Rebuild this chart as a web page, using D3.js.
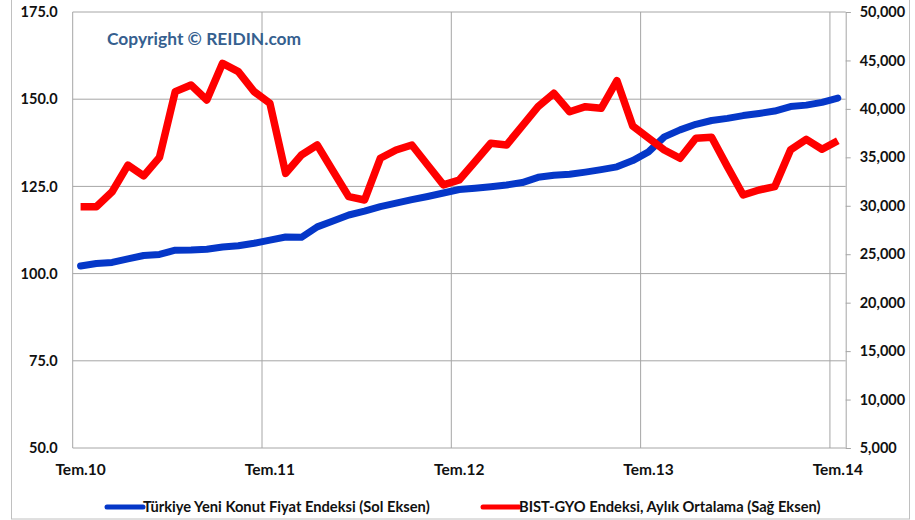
<!DOCTYPE html>
<html>
<head>
<meta charset="utf-8">
<script src="https://cdn.jsdelivr.net/npm/d3@7"></script>
<style>
  body { margin: 0; background: #fff; }
  svg text { font-family: Lato, "Open Sans", sans-serif; font-weight: bold; }
</style>
</head>
<body>
<svg id="chart" width="915" height="520"></svg>
<script>
// monthly categories, Jul 2010 .. Jul 2014
const months = [
  "Tem.10","Ağu.10","Eyl.10","Eki.10","Kas.10","Ara.10",
  "Oca.11","Şub.11","Mar.11","Nis.11","May.11","Haz.11",
  "Tem.11","Ağu.11","Eyl.11","Eki.11","Kas.11","Ara.11",
  "Oca.12","Şub.12","Mar.12","Nis.12","May.12","Haz.12",
  "Tem.12","Ağu.12","Eyl.12","Eki.12","Kas.12","Ara.12",
  "Oca.13","Şub.13","Mar.13","Nis.13","May.13","Haz.13",
  "Tem.13","Ağu.13","Eyl.13","Eki.13","Kas.13","Ara.13",
  "Oca.14","Şub.14","Mar.14","Nis.14","May.14","Haz.14",
  "Tem.14"
];
const xTickLabels = ["Tem.10", "Tem.11", "Tem.12", "Tem.13", "Tem.14"];

// Türkiye Yeni Konut Fiyat Endeksi (left axis)
const konutIndex = [
  102.2, 102.9, 103.2, 104.2, 105.2, 105.5, 106.7, 106.8, 107.0, 107.6, 108.0, 108.7,
  109.6, 110.5, 110.4, 113.4, 115.1, 116.8, 117.9, 119.2, 120.2, 121.2, 122.1, 123.1,
  124.1, 124.5, 124.9, 125.4, 126.1, 127.6, 128.2, 128.5, 129.1, 129.8, 130.6, 132.4,
  134.9, 139.2, 141.2, 142.8, 143.9, 144.5, 145.3, 145.9, 146.6, 147.9, 148.3, 149.1,
  150.3
];

// BIST-GYO Endeksi, monthly average (right axis)
const gyoIndex = [
  29900, 29900, 31450, 34200, 33080, 35000, 41780, 42470, 40920, 44700, 43840, 41780,
  40580, 33350, 35240, 36270, 33590, 30940, 30600, 34900, 35760, 36270, 34210, 32150,
  32660, 34550, 36450, 36270, 38250, 40230, 41610, 39710, 40230, 40060, 42910, 38240,
  37000, 35760, 34900, 36970, 37070, 34040, 31110, 31630, 31970, 35760, 36860, 35830,
  36720
];

const leftTicks = [50, 75, 100, 125, 150, 175];
const rightTicks = [5000, 10000, 15000, 20000, 25000, 30000, 35000, 40000, 45000, 50000];

const seriesNames = [
  "Türkiye Yeni Konut Fiyat Endeksi (Sol Eksen)",
  "BIST-GYO Endeksi, Aylık Ortalama (Sağ Eksen)"
];
const colors = ["#0537c8", "#ff0000"];

const svg = d3.select("#chart");
const plot = { left: 72.7, right: 845.7, top: 12, bottom: 448 };

// outer frame
svg.append("rect")
  .attr("x", 11.5).attr("y", -1)
  .attr("width", 898).attr("height", 520)
  .attr("fill", "none").attr("stroke", "#c0c0c0");

const x = d3.scaleBand().domain(months).range([plot.left, plot.right]).padding(0);
const yL = d3.scaleLinear().domain([50, 175]).range([plot.bottom, plot.top]);
const yR = d3.scaleLinear().domain([5000, 50000]).range([plot.bottom, plot.top]);

// horizontal gridlines
svg.append("g")
  .selectAll("line")
  .data(leftTicks)
  .join("line")
  .attr("x1", plot.left).attr("x2", plot.right)
  .attr("y1", d => yL(d)).attr("y2", d => yL(d))
  .attr("stroke", "#a6a6a6").attr("stroke-width", 1);

// vertical gridlines at category boundaries
svg.append("g")
  .selectAll("line")
  .data(xTickLabels)
  .join("line")
  .attr("x1", d => x(d)).attr("x2", d => x(d))
  .attr("y1", plot.top).attr("y2", plot.bottom)
  .attr("stroke", "#a6a6a6").attr("stroke-width", 1);

// left axis labels
const leftAxis = svg.append("g")
  .attr("transform", `translate(${plot.left},0)`)
  .call(d3.axisLeft(yL).tickValues(leftTicks).tickSize(0).tickPadding(15).tickFormat(d3.format(".1f")));
leftAxis.select(".domain").remove();

// right axis
const rightAxis = svg.append("g")
  .attr("transform", `translate(${plot.right},0)`)
  .call(d3.axisRight(yR).tickValues(rightTicks).tickSize(5).tickPadding(9).tickFormat(d3.format(",")));
rightAxis.select(".domain").attr("stroke", "#a6a6a6");
rightAxis.selectAll(".tick line").attr("stroke", "#a6a6a6");

// bottom category labels
const bottomAxis = svg.append("g")
  .attr("transform", `translate(0,${plot.bottom})`)
  .call(d3.axisBottom(x).tickValues(xTickLabels).tickSize(0).tickPadding(16));
bottomAxis.select(".domain").remove();

svg.selectAll(".tick text")
  .attr("fill", "#111")
  .style("font-size", "14.5px")
  .style("font-family", "Lato, 'Open Sans', sans-serif")
  .style("font-weight", "bold");
bottomAxis.selectAll(".tick text").style("font-size", "15.5px");

// lines
const cx = d => x(d) + x.bandwidth() / 2;
const konutLine = d3.line().x((d, i) => cx(months[i])).y(d => yL(d));
const gyoLine = d3.line().x((d, i) => cx(months[i])).y(d => yR(d));

svg.append("path")
  .datum(konutIndex)
  .attr("d", konutLine)
  .attr("fill", "none")
  .attr("stroke", colors[0])
  .attr("stroke-width", 7)
  .attr("stroke-linejoin", "round")
  .attr("stroke-linecap", "round");

svg.append("path")
  .datum(gyoIndex)
  .attr("d", gyoLine)
  .attr("fill", "none")
  .attr("stroke", colors[1])
  .attr("stroke-width", 7.5)
  .attr("stroke-linejoin", "round")
  .attr("stroke-linecap", "butt");

// copyright note
svg.append("text")
  .attr("x", 107).attr("y", 45)
  .attr("fill", "#365f8f")
  .style("font-size", "17.4px")
  .text("Copyright © REIDIN.com");

// legend
const legendPos = [107, 483];
const legend = svg.append("g");
legend.selectAll("line")
  .data(seriesNames)
  .join("line")
  .attr("x1", (d, i) => legendPos[i]).attr("x2", (d, i) => legendPos[i] + 36)
  .attr("y1", 507).attr("y2", 507)
  .attr("stroke", (d, i) => colors[i])
  .attr("stroke-width", 5)
  .attr("stroke-linecap", "round");
legend.selectAll("text")
  .data(seriesNames)
  .join("text")
  .attr("x", (d, i) => legendPos[i] + 36)
  .attr("y", 512)
  .attr("fill", "#111")
  .style("font-size", "14.7px")
  .text(d => d);
</script>
</body>
</html>
